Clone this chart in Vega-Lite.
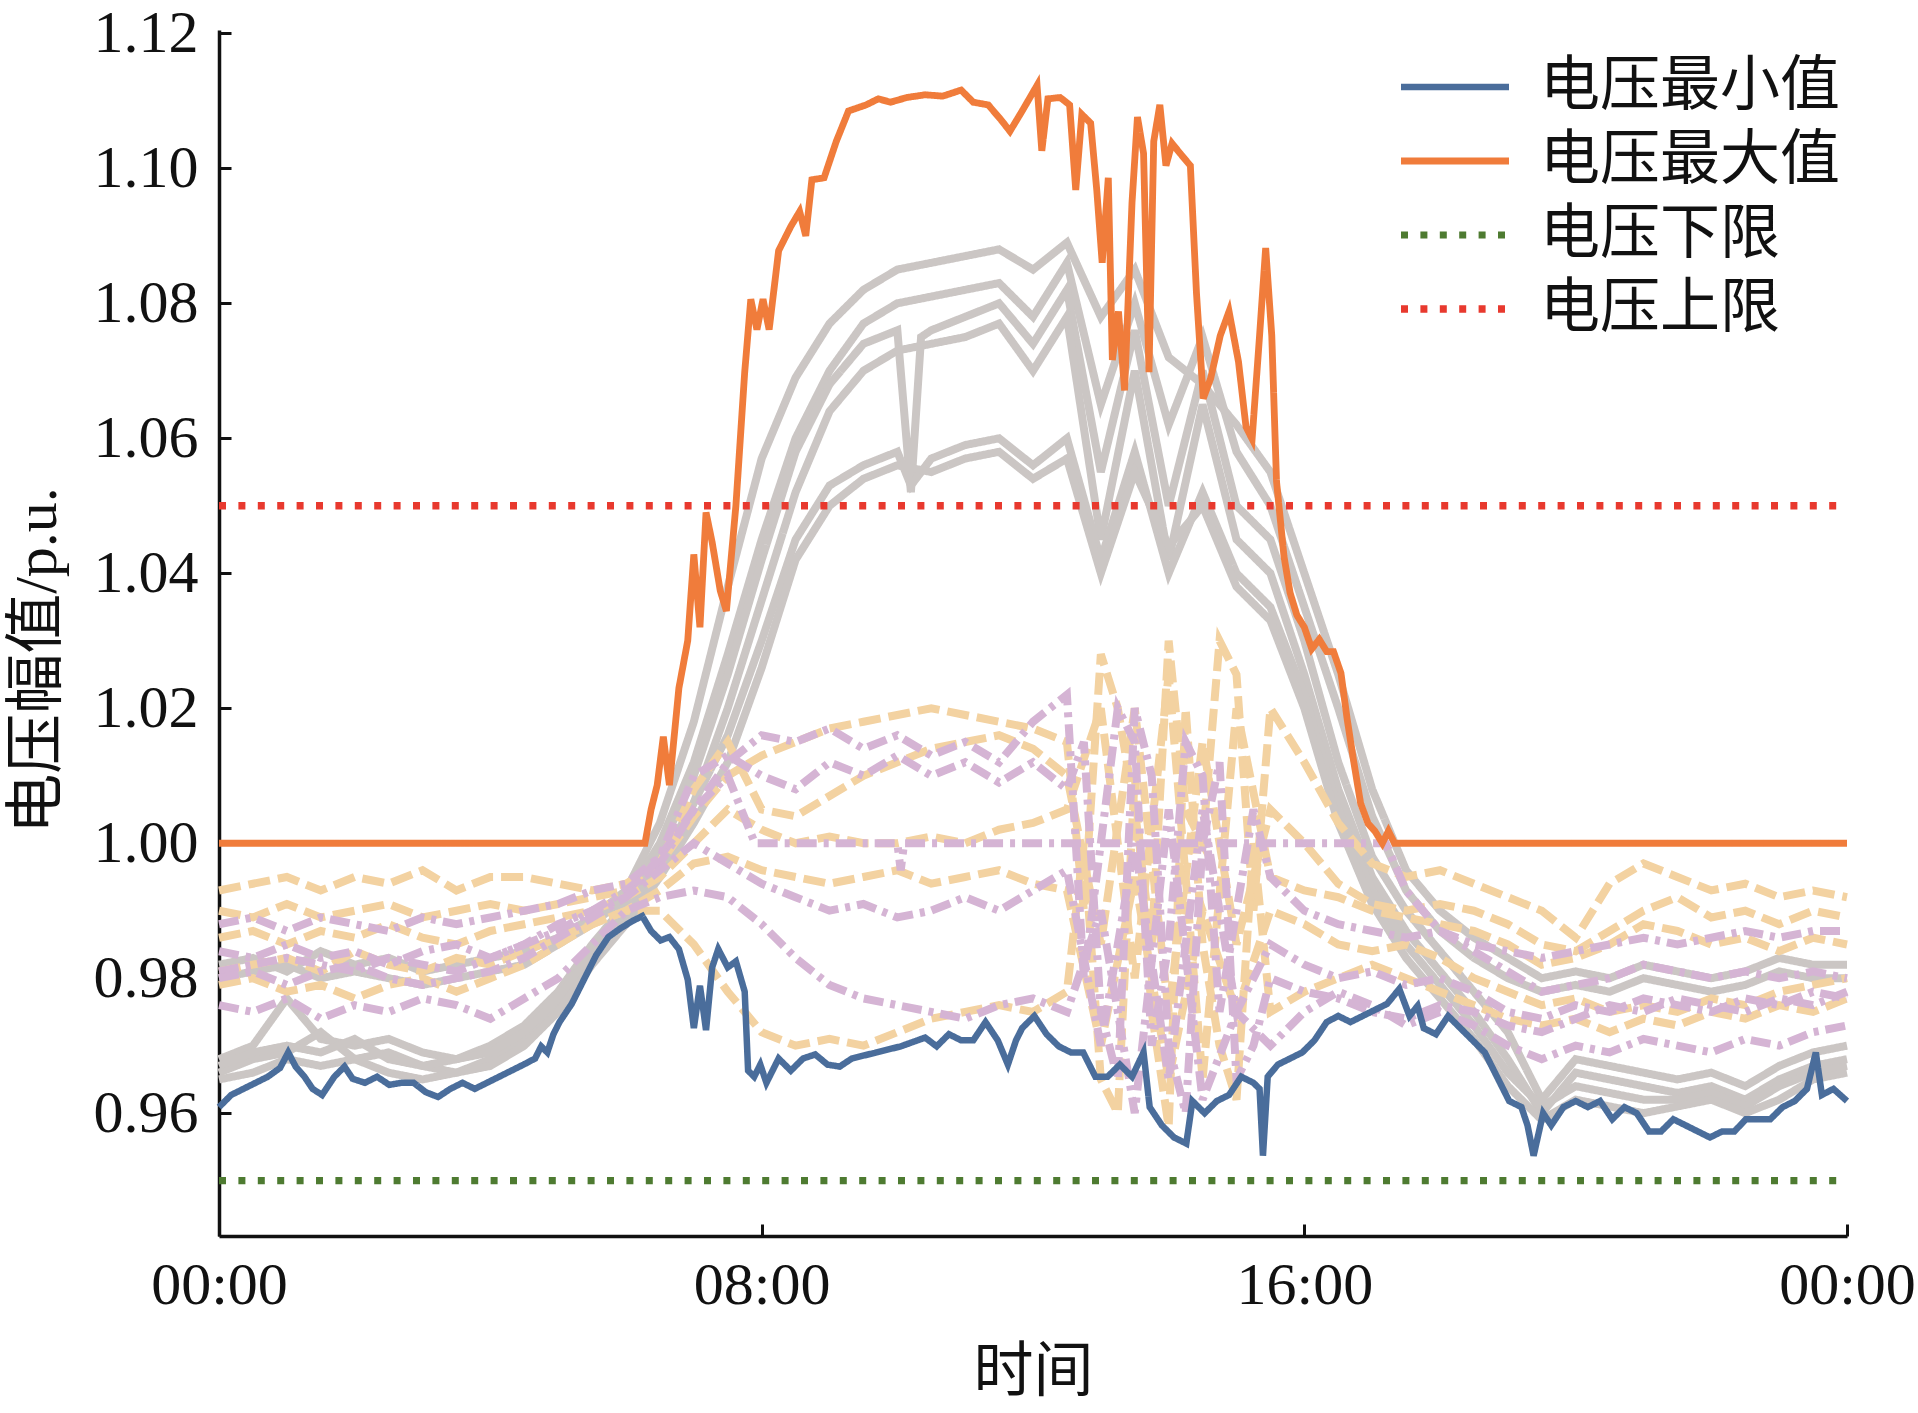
{
  "$schema": "https://vega.github.io/schema/vega-lite/v6.json",
  "width": 1628,
  "height": 1206,
  "autosize": {"type": "none"},
  "padding": {"left": 219, "top": 30, "right": 71, "bottom": 177},
  "background": "white",
  "config": {"view": {"stroke": null}, "font": "Liberation Serif"},
  "datasets": {
    "bg": [
      {"s":"g1","t":0,"v":0.982},{"s":"g1","t":0.5,"v":0.983},{"s":"g1","t":1,"v":0.981},{"s":"g1","t":1.5,"v":0.984},{"s":"g1","t":2,"v":0.982},{"s":"g1","t":2.5,"v":0.983},{"s":"g1","t":3,"v":0.981},{"s":"g1","t":3.5,"v":0.982},{"s":"g1","t":4,"v":0.983},{"s":"g1","t":4.5,"v":0.984},{"s":"g1","t":5,"v":0.986},{"s":"g1","t":5.5,"v":0.989},{"s":"g1","t":6,"v":0.993},{"s":"g1","t":6.5,"v":1.003},{"s":"g1","t":7,"v":1.018},{"s":"g1","t":7.5,"v":1.038},{"s":"g1","t":8,"v":1.057},{"s":"g1","t":8.5,"v":1.069},{"s":"g1","t":9,"v":1.077},{"s":"g1","t":9.5,"v":1.082},{"s":"g1","t":10,"v":1.085},{"s":"g1","t":10.5,"v":1.086},{"s":"g1","t":11,"v":1.087},{"s":"g1","t":11.5,"v":1.088},{"s":"g1","t":12,"v":1.085},{"s":"g1","t":12.5,"v":1.089},{"s":"g1","t":13,"v":1.078},{"s":"g1","t":13.5,"v":1.085},{"s":"g1","t":14,"v":1.072},{"s":"g1","t":14.5,"v":1.068},{"s":"g1","t":15,"v":1.062},{"s":"g1","t":15.5,"v":1.055},{"s":"g1","t":16,"v":1.04},{"s":"g1","t":16.5,"v":1.025},{"s":"g1","t":17,"v":1.008},{"s":"g1","t":17.5,"v":0.996},{"s":"g1","t":18,"v":0.99},{"s":"g1","t":18.5,"v":0.986},{"s":"g1","t":19,"v":0.983},{"s":"g1","t":19.5,"v":0.98},{"s":"g1","t":20,"v":0.981},{"s":"g1","t":20.5,"v":0.98},{"s":"g1","t":21,"v":0.982},{"s":"g1","t":21.5,"v":0.981},{"s":"g1","t":22,"v":0.98},{"s":"g1","t":22.5,"v":0.981},{"s":"g1","t":23,"v":0.983},{"s":"g1","t":23.5,"v":0.982},{"s":"g1","t":24,"v":0.982},
      {"s":"g2","t":0,"v":0.98},{"s":"g2","t":0.5,"v":0.981},{"s":"g2","t":1,"v":0.982},{"s":"g2","t":1.5,"v":0.98},{"s":"g2","t":2,"v":0.981},{"s":"g2","t":2.5,"v":0.98},{"s":"g2","t":3,"v":0.979},{"s":"g2","t":3.5,"v":0.98},{"s":"g2","t":4,"v":0.981},{"s":"g2","t":4.5,"v":0.982},{"s":"g2","t":5,"v":0.985},{"s":"g2","t":5.5,"v":0.988},{"s":"g2","t":6,"v":0.992},{"s":"g2","t":6.5,"v":1.0},{"s":"g2","t":7,"v":1.012},{"s":"g2","t":7.5,"v":1.028},{"s":"g2","t":8,"v":1.045},{"s":"g2","t":8.5,"v":1.06},{"s":"g2","t":9,"v":1.07},{"s":"g2","t":9.5,"v":1.077},{"s":"g2","t":10,"v":1.08},{"s":"g2","t":10.5,"v":1.081},{"s":"g2","t":11,"v":1.082},{"s":"g2","t":11.5,"v":1.083},{"s":"g2","t":12,"v":1.078},{"s":"g2","t":12.5,"v":1.086},{"s":"g2","t":13,"v":1.065},{"s":"g2","t":13.5,"v":1.08},{"s":"g2","t":14,"v":1.062},{"s":"g2","t":14.5,"v":1.075},{"s":"g2","t":15,"v":1.058},{"s":"g2","t":15.5,"v":1.05},{"s":"g2","t":16,"v":1.035},{"s":"g2","t":16.5,"v":1.02},{"s":"g2","t":17,"v":1.004},{"s":"g2","t":17.5,"v":0.993},{"s":"g2","t":18,"v":0.987},{"s":"g2","t":18.5,"v":0.983},{"s":"g2","t":19,"v":0.98},{"s":"g2","t":19.5,"v":0.978},{"s":"g2","t":20,"v":0.979},{"s":"g2","t":20.5,"v":0.978},{"s":"g2","t":21,"v":0.98},{"s":"g2","t":21.5,"v":0.979},{"s":"g2","t":22,"v":0.978},{"s":"g2","t":22.5,"v":0.979},{"s":"g2","t":23,"v":0.981},{"s":"g2","t":23.5,"v":0.98},{"s":"g2","t":24,"v":0.98},
      {"s":"g3","t":0,"v":0.968},{"s":"g3","t":0.5,"v":0.97},{"s":"g3","t":1,"v":0.977},{"s":"g3","t":1.5,"v":0.971},{"s":"g3","t":2,"v":0.97},{"s":"g3","t":2.5,"v":0.971},{"s":"g3","t":3,"v":0.969},{"s":"g3","t":3.5,"v":0.968},{"s":"g3","t":4,"v":0.97},{"s":"g3","t":4.5,"v":0.973},{"s":"g3","t":5,"v":0.978},{"s":"g3","t":5.5,"v":0.985},{"s":"g3","t":6,"v":0.991},{"s":"g3","t":6.5,"v":0.999},{"s":"g3","t":7,"v":1.01},{"s":"g3","t":7.5,"v":1.025},{"s":"g3","t":8,"v":1.042},{"s":"g3","t":8.5,"v":1.058},{"s":"g3","t":9,"v":1.068},{"s":"g3","t":9.5,"v":1.074},{"s":"g3","t":10,"v":1.076},{"s":"g3","t":10.2,"v":1.052},{"s":"g3","t":10.35,"v":1.075},{"s":"g3","t":10.5,"v":1.076},{"s":"g3","t":11,"v":1.078},{"s":"g3","t":11.5,"v":1.08},{"s":"g3","t":12,"v":1.074},{"s":"g3","t":12.5,"v":1.082},{"s":"g3","t":13,"v":1.055},{"s":"g3","t":13.5,"v":1.076},{"s":"g3","t":14,"v":1.05},{"s":"g3","t":14.5,"v":1.07},{"s":"g3","t":15,"v":1.05},{"s":"g3","t":15.5,"v":1.045},{"s":"g3","t":16,"v":1.03},{"s":"g3","t":16.5,"v":1.012},{"s":"g3","t":17,"v":0.998},{"s":"g3","t":17.5,"v":0.99},{"s":"g3","t":18,"v":0.984},{"s":"g3","t":18.5,"v":0.978},{"s":"g3","t":19,"v":0.972},{"s":"g3","t":19.5,"v":0.962},{"s":"g3","t":20,"v":0.968},{"s":"g3","t":20.5,"v":0.967},{"s":"g3","t":21,"v":0.966},{"s":"g3","t":21.5,"v":0.965},{"s":"g3","t":22,"v":0.966},{"s":"g3","t":22.5,"v":0.964},{"s":"g3","t":23,"v":0.967},{"s":"g3","t":23.5,"v":0.969},{"s":"g3","t":24,"v":0.97},
      {"s":"g4","t":0,"v":0.966},{"s":"g4","t":0.5,"v":0.968},{"s":"g4","t":1,"v":0.969},{"s":"g4","t":1.5,"v":0.972},{"s":"g4","t":2,"v":0.968},{"s":"g4","t":2.5,"v":0.969},{"s":"g4","t":3,"v":0.967},{"s":"g4","t":3.5,"v":0.966},{"s":"g4","t":4,"v":0.968},{"s":"g4","t":4.5,"v":0.971},{"s":"g4","t":5,"v":0.976},{"s":"g4","t":5.5,"v":0.983},{"s":"g4","t":6,"v":0.989},{"s":"g4","t":6.5,"v":0.996},{"s":"g4","t":7,"v":1.006},{"s":"g4","t":7.5,"v":1.02},{"s":"g4","t":8,"v":1.036},{"s":"g4","t":8.5,"v":1.052},{"s":"g4","t":9,"v":1.064},{"s":"g4","t":9.5,"v":1.07},{"s":"g4","t":10,"v":1.073},{"s":"g4","t":10.5,"v":1.074},{"s":"g4","t":11,"v":1.075},{"s":"g4","t":11.5,"v":1.077},{"s":"g4","t":12,"v":1.07},{"s":"g4","t":12.5,"v":1.078},{"s":"g4","t":13,"v":1.045},{"s":"g4","t":13.5,"v":1.07},{"s":"g4","t":14,"v":1.042},{"s":"g4","t":14.5,"v":1.065},{"s":"g4","t":15,"v":1.045},{"s":"g4","t":15.5,"v":1.04},{"s":"g4","t":16,"v":1.025},{"s":"g4","t":16.5,"v":1.008},{"s":"g4","t":17,"v":0.995},{"s":"g4","t":17.5,"v":0.987},{"s":"g4","t":18,"v":0.981},{"s":"g4","t":18.5,"v":0.975},{"s":"g4","t":19,"v":0.968},{"s":"g4","t":19.5,"v":0.96},{"s":"g4","t":20,"v":0.966},{"s":"g4","t":20.5,"v":0.965},{"s":"g4","t":21,"v":0.964},{"s":"g4","t":21.5,"v":0.963},{"s":"g4","t":22,"v":0.964},{"s":"g4","t":22.5,"v":0.962},{"s":"g4","t":23,"v":0.965},{"s":"g4","t":23.5,"v":0.967},{"s":"g4","t":24,"v":0.968},
      {"s":"g5","t":0,"v":0.967},{"s":"g5","t":0.5,"v":0.969},{"s":"g5","t":1,"v":0.97},{"s":"g5","t":1.5,"v":0.969},{"s":"g5","t":2,"v":0.971},{"s":"g5","t":2.5,"v":0.968},{"s":"g5","t":3,"v":0.967},{"s":"g5","t":3.5,"v":0.968},{"s":"g5","t":4,"v":0.969},{"s":"g5","t":4.5,"v":0.972},{"s":"g5","t":5,"v":0.977},{"s":"g5","t":5.5,"v":0.984},{"s":"g5","t":6,"v":0.99},{"s":"g5","t":6.5,"v":0.997},{"s":"g5","t":7,"v":1.006},{"s":"g5","t":7.5,"v":1.016},{"s":"g5","t":8,"v":1.03},{"s":"g5","t":8.5,"v":1.045},{"s":"g5","t":9,"v":1.053},{"s":"g5","t":9.5,"v":1.056},{"s":"g5","t":10,"v":1.058},{"s":"g5","t":10.2,"v":1.053},{"s":"g5","t":10.5,"v":1.057},{"s":"g5","t":11,"v":1.059},{"s":"g5","t":11.5,"v":1.06},{"s":"g5","t":12,"v":1.056},{"s":"g5","t":12.5,"v":1.06},{"s":"g5","t":13,"v":1.042},{"s":"g5","t":13.5,"v":1.058},{"s":"g5","t":14,"v":1.04},{"s":"g5","t":14.5,"v":1.052},{"s":"g5","t":15,"v":1.04},{"s":"g5","t":15.5,"v":1.035},{"s":"g5","t":16,"v":1.022},{"s":"g5","t":16.5,"v":1.005},{"s":"g5","t":17,"v":0.993},{"s":"g5","t":17.5,"v":0.985},{"s":"g5","t":18,"v":0.979},{"s":"g5","t":18.5,"v":0.973},{"s":"g5","t":19,"v":0.966},{"s":"g5","t":19.5,"v":0.961},{"s":"g5","t":20,"v":0.964},{"s":"g5","t":20.5,"v":0.963},{"s":"g5","t":21,"v":0.962},{"s":"g5","t":21.5,"v":0.962},{"s":"g5","t":22,"v":0.963},{"s":"g5","t":22.5,"v":0.961},{"s":"g5","t":23,"v":0.964},{"s":"g5","t":23.5,"v":0.966},{"s":"g5","t":24,"v":0.967},
      {"s":"g6","t":0,"v":0.965},{"s":"g6","t":0.5,"v":0.966},{"s":"g6","t":1,"v":0.968},{"s":"g6","t":1.5,"v":0.967},{"s":"g6","t":2,"v":0.968},{"s":"g6","t":2.5,"v":0.966},{"s":"g6","t":3,"v":0.965},{"s":"g6","t":3.5,"v":0.966},{"s":"g6","t":4,"v":0.967},{"s":"g6","t":4.5,"v":0.97},{"s":"g6","t":5,"v":0.975},{"s":"g6","t":5.5,"v":0.982},{"s":"g6","t":6,"v":0.988},{"s":"g6","t":6.5,"v":0.995},{"s":"g6","t":7,"v":1.003},{"s":"g6","t":7.5,"v":1.012},{"s":"g6","t":8,"v":1.026},{"s":"g6","t":8.5,"v":1.042},{"s":"g6","t":9,"v":1.05},{"s":"g6","t":9.5,"v":1.054},{"s":"g6","t":10,"v":1.056},{"s":"g6","t":10.5,"v":1.055},{"s":"g6","t":11,"v":1.057},{"s":"g6","t":11.5,"v":1.058},{"s":"g6","t":12,"v":1.054},{"s":"g6","t":12.5,"v":1.057},{"s":"g6","t":13,"v":1.04},{"s":"g6","t":13.5,"v":1.055},{"s":"g6","t":14,"v":1.044},{"s":"g6","t":14.5,"v":1.05},{"s":"g6","t":15,"v":1.038},{"s":"g6","t":15.5,"v":1.033},{"s":"g6","t":16,"v":1.02},{"s":"g6","t":16.5,"v":1.003},{"s":"g6","t":17,"v":0.991},{"s":"g6","t":17.5,"v":0.983},{"s":"g6","t":18,"v":0.977},{"s":"g6","t":18.5,"v":0.971},{"s":"g6","t":19,"v":0.964},{"s":"g6","t":19.5,"v":0.959},{"s":"g6","t":20,"v":0.962},{"s":"g6","t":20.5,"v":0.961},{"s":"g6","t":21,"v":0.96},{"s":"g6","t":21.5,"v":0.961},{"s":"g6","t":22,"v":0.962},{"s":"g6","t":22.5,"v":0.96},{"s":"g6","t":23,"v":0.962},{"s":"g6","t":23.5,"v":0.965},{"s":"g6","t":24,"v":0.966},
      {"s":"y1","t":0,"v":0.993},{"s":"y1","t":0.5,"v":0.994},{"s":"y1","t":1,"v":0.995},{"s":"y1","t":1.5,"v":0.993},{"s":"y1","t":2,"v":0.995},{"s":"y1","t":2.5,"v":0.994},{"s":"y1","t":3,"v":0.996},{"s":"y1","t":3.5,"v":0.993},{"s":"y1","t":4,"v":0.995},{"s":"y1","t":4.5,"v":0.995},{"s":"y1","t":5,"v":0.994},{"s":"y1","t":5.5,"v":0.993},{"s":"y1","t":6,"v":0.994},{"s":"y1","t":6.5,"v":0.997},{"s":"y1","t":7,"v":1.004},{"s":"y1","t":7.5,"v":1.01},{"s":"y1","t":8,"v":1.013},{"s":"y1","t":8.5,"v":1.015},{"s":"y1","t":9,"v":1.017},{"s":"y1","t":9.5,"v":1.018},{"s":"y1","t":10,"v":1.019},{"s":"y1","t":10.5,"v":1.02},{"s":"y1","t":11,"v":1.019},{"s":"y1","t":11.5,"v":1.018},{"s":"y1","t":12,"v":1.017},{"s":"y1","t":12.5,"v":1.015},{"s":"y1","t":12.75,"v":0.99},{"s":"y1","t":13,"v":1.028},{"s":"y1","t":13.25,"v":1.02},{"s":"y1","t":13.5,"v":1.005},{"s":"y1","t":13.75,"v":0.985},{"s":"y1","t":14,"v":1.03},{"s":"y1","t":14.25,"v":1.005},{"s":"y1","t":14.5,"v":1.0},{"s":"y1","t":14.75,"v":1.03},{"s":"y1","t":15,"v":1.025},{"s":"y1","t":15.25,"v":0.99},{"s":"y1","t":15.5,"v":1.02},{"s":"y1","t":16,"v":1.012},{"s":"y1","t":16.5,"v":1.003},{"s":"y1","t":17,"v":0.997},{"s":"y1","t":17.5,"v":0.995},{"s":"y1","t":18,"v":0.996},{"s":"y1","t":18.5,"v":0.994},{"s":"y1","t":19,"v":0.992},{"s":"y1","t":19.5,"v":0.99},{"s":"y1","t":20,"v":0.986},{"s":"y1","t":20.5,"v":0.994},{"s":"y1","t":21,"v":0.997},{"s":"y1","t":21.5,"v":0.995},{"s":"y1","t":22,"v":0.993},{"s":"y1","t":22.5,"v":0.994},{"s":"y1","t":23,"v":0.992},{"s":"y1","t":23.5,"v":0.993},{"s":"y1","t":24,"v":0.992},
      {"s":"y2","t":0,"v":0.99},{"s":"y2","t":0.5,"v":0.989},{"s":"y2","t":1,"v":0.991},{"s":"y2","t":1.5,"v":0.989},{"s":"y2","t":2,"v":0.99},{"s":"y2","t":2.5,"v":0.991},{"s":"y2","t":3,"v":0.989},{"s":"y2","t":3.5,"v":0.99},{"s":"y2","t":4,"v":0.991},{"s":"y2","t":4.5,"v":0.99},{"s":"y2","t":5,"v":0.991},{"s":"y2","t":5.5,"v":0.992},{"s":"y2","t":6,"v":0.993},{"s":"y2","t":6.5,"v":0.997},{"s":"y2","t":7,"v":1.008},{"s":"y2","t":7.5,"v":1.015},{"s":"y2","t":8,"v":1.005},{"s":"y2","t":8.5,"v":1.004},{"s":"y2","t":9,"v":1.007},{"s":"y2","t":9.5,"v":1.01},{"s":"y2","t":10,"v":1.012},{"s":"y2","t":10.5,"v":1.014},{"s":"y2","t":11,"v":1.015},{"s":"y2","t":11.5,"v":1.016},{"s":"y2","t":12,"v":1.014},{"s":"y2","t":12.5,"v":1.01},{"s":"y2","t":13,"v":0.985},{"s":"y2","t":13.5,"v":1.02},{"s":"y2","t":14,"v":0.975},{"s":"y2","t":14.5,"v":1.015},{"s":"y2","t":15,"v":0.985},{"s":"y2","t":15.5,"v":1.005},{"s":"y2","t":16,"v":1.0},{"s":"y2","t":16.5,"v":0.994},{"s":"y2","t":17,"v":0.991},{"s":"y2","t":17.5,"v":0.99},{"s":"y2","t":18,"v":0.991},{"s":"y2","t":18.5,"v":0.99},{"s":"y2","t":19,"v":0.988},{"s":"y2","t":19.5,"v":0.985},{"s":"y2","t":20,"v":0.984},{"s":"y2","t":20.5,"v":0.987},{"s":"y2","t":21,"v":0.99},{"s":"y2","t":21.5,"v":0.992},{"s":"y2","t":22,"v":0.989},{"s":"y2","t":22.5,"v":0.99},{"s":"y2","t":23,"v":0.988},{"s":"y2","t":23.5,"v":0.99},{"s":"y2","t":24,"v":0.989},
      {"s":"y3","t":0,"v":0.981},{"s":"y3","t":0.5,"v":0.982},{"s":"y3","t":1,"v":0.983},{"s":"y3","t":1.5,"v":0.981},{"s":"y3","t":2,"v":0.984},{"s":"y3","t":2.5,"v":0.982},{"s":"y3","t":3,"v":0.981},{"s":"y3","t":3.5,"v":0.983},{"s":"y3","t":4,"v":0.982},{"s":"y3","t":4.5,"v":0.984},{"s":"y3","t":5,"v":0.986},{"s":"y3","t":5.5,"v":0.988},{"s":"y3","t":6,"v":0.99},{"s":"y3","t":6.5,"v":0.993},{"s":"y3","t":7,"v":0.997},{"s":"y3","t":7.5,"v":0.998},{"s":"y3","t":8,"v":0.996},{"s":"y3","t":8.5,"v":0.995},{"s":"y3","t":9,"v":0.994},{"s":"y3","t":9.5,"v":0.995},{"s":"y3","t":10,"v":0.996},{"s":"y3","t":10.5,"v":0.994},{"s":"y3","t":11,"v":0.995},{"s":"y3","t":11.5,"v":0.996},{"s":"y3","t":12,"v":0.994},{"s":"y3","t":12.5,"v":0.993},{"s":"y3","t":13,"v":0.97},{"s":"y3","t":13.5,"v":0.995},{"s":"y3","t":14,"v":0.965},{"s":"y3","t":14.5,"v":0.99},{"s":"y3","t":15,"v":0.975},{"s":"y3","t":15.5,"v":0.99},{"s":"y3","t":16,"v":0.988},{"s":"y3","t":16.5,"v":0.985},{"s":"y3","t":17,"v":0.984},{"s":"y3","t":17.5,"v":0.985},{"s":"y3","t":18,"v":0.983},{"s":"y3","t":18.5,"v":0.98},{"s":"y3","t":19,"v":0.978},{"s":"y3","t":19.5,"v":0.976},{"s":"y3","t":20,"v":0.977},{"s":"y3","t":20.5,"v":0.975},{"s":"y3","t":21,"v":0.976},{"s":"y3","t":21.5,"v":0.975},{"s":"y3","t":22,"v":0.977},{"s":"y3","t":22.5,"v":0.976},{"s":"y3","t":23,"v":0.978},{"s":"y3","t":23.5,"v":0.979},{"s":"y3","t":24,"v":0.98},
      {"s":"y4","t":0,"v":0.979},{"s":"y4","t":0.5,"v":0.98},{"s":"y4","t":1,"v":0.978},{"s":"y4","t":1.5,"v":0.979},{"s":"y4","t":2,"v":0.977},{"s":"y4","t":2.5,"v":0.979},{"s":"y4","t":3,"v":0.98},{"s":"y4","t":3.5,"v":0.978},{"s":"y4","t":4,"v":0.98},{"s":"y4","t":4.5,"v":0.982},{"s":"y4","t":5,"v":0.985},{"s":"y4","t":5.5,"v":0.988},{"s":"y4","t":6,"v":0.99},{"s":"y4","t":6.5,"v":0.99},{"s":"y4","t":7,"v":0.985},{"s":"y4","t":7.5,"v":0.978},{"s":"y4","t":8,"v":0.972},{"s":"y4","t":8.5,"v":0.97},{"s":"y4","t":9,"v":0.971},{"s":"y4","t":9.5,"v":0.97},{"s":"y4","t":10,"v":0.972},{"s":"y4","t":10.5,"v":0.974},{"s":"y4","t":11,"v":0.975},{"s":"y4","t":11.5,"v":0.976},{"s":"y4","t":12,"v":0.975},{"s":"y4","t":12.5,"v":0.978},{"s":"y4","t":12.75,"v":1.0},{"s":"y4","t":13,"v":0.965},{"s":"y4","t":13.25,"v":0.96},{"s":"y4","t":13.5,"v":1.01},{"s":"y4","t":13.75,"v":0.975},{"s":"y4","t":14,"v":0.958},{"s":"y4","t":14.25,"v":1.02},{"s":"y4","t":14.5,"v":0.985},{"s":"y4","t":14.75,"v":0.97},{"s":"y4","t":15,"v":0.962},{"s":"y4","t":15.25,"v":1.0},{"s":"y4","t":15.5,"v":0.975},{"s":"y4","t":16,"v":0.978},{"s":"y4","t":16.5,"v":0.98},{"s":"y4","t":17,"v":0.982},{"s":"y4","t":17.5,"v":0.98},{"s":"y4","t":18,"v":0.978},{"s":"y4","t":18.5,"v":0.976},{"s":"y4","t":19,"v":0.974},{"s":"y4","t":19.5,"v":0.973},{"s":"y4","t":20,"v":0.974},{"s":"y4","t":20.5,"v":0.972},{"s":"y4","t":21,"v":0.974},{"s":"y4","t":21.5,"v":0.973},{"s":"y4","t":22,"v":0.975},{"s":"y4","t":22.5,"v":0.974},{"s":"y4","t":23,"v":0.976},{"s":"y4","t":23.5,"v":0.975},{"s":"y4","t":24,"v":0.977},
      {"s":"y5","t":0,"v":0.986},{"s":"y5","t":0.5,"v":0.987},{"s":"y5","t":1,"v":0.985},{"s":"y5","t":1.5,"v":0.987},{"s":"y5","t":2,"v":0.986},{"s":"y5","t":2.5,"v":0.988},{"s":"y5","t":3,"v":0.986},{"s":"y5","t":3.5,"v":0.985},{"s":"y5","t":4,"v":0.987},{"s":"y5","t":4.5,"v":0.988},{"s":"y5","t":5,"v":0.989},{"s":"y5","t":5.5,"v":0.99},{"s":"y5","t":6,"v":0.992},{"s":"y5","t":6.5,"v":0.995},{"s":"y5","t":7,"v":1.0},{"s":"y5","t":7.5,"v":1.005},{"s":"y5","t":8,"v":1.002},{"s":"y5","t":8.5,"v":1.0},{"s":"y5","t":9,"v":1.001},{"s":"y5","t":9.5,"v":1.0},{"s":"y5","t":10,"v":1.0},{"s":"y5","t":10.5,"v":1.001},{"s":"y5","t":11,"v":1.0},{"s":"y5","t":11.5,"v":1.002},{"s":"y5","t":12,"v":1.003},{"s":"y5","t":12.5,"v":1.005},{"s":"y5","t":13,"v":1.02},{"s":"y5","t":13.5,"v":0.98},{"s":"y5","t":14,"v":1.025},{"s":"y5","t":14.5,"v":0.965},{"s":"y5","t":15,"v":1.02},{"s":"y5","t":15.5,"v":0.995},{"s":"y5","t":16,"v":0.993},{"s":"y5","t":16.5,"v":0.992},{"s":"y5","t":17,"v":0.99},{"s":"y5","t":17.5,"v":0.989},{"s":"y5","t":18,"v":0.988},{"s":"y5","t":18.5,"v":0.987},{"s":"y5","t":19,"v":0.985},{"s":"y5","t":19.5,"v":0.982},{"s":"y5","t":20,"v":0.983},{"s":"y5","t":20.5,"v":0.985},{"s":"y5","t":21,"v":0.988},{"s":"y5","t":21.5,"v":0.987},{"s":"y5","t":22,"v":0.985},{"s":"y5","t":22.5,"v":0.986},{"s":"y5","t":23,"v":0.984},{"s":"y5","t":23.5,"v":0.986},{"s":"y5","t":24,"v":0.985},
      {"s":"p1","t":0,"v":0.988},{"s":"p1","t":0.5,"v":0.989},{"s":"p1","t":1,"v":0.987},{"s":"p1","t":1.5,"v":0.989},{"s":"p1","t":2,"v":0.988},{"s":"p1","t":2.5,"v":0.987},{"s":"p1","t":3,"v":0.989},{"s":"p1","t":3.5,"v":0.988},{"s":"p1","t":4,"v":0.989},{"s":"p1","t":4.5,"v":0.99},{"s":"p1","t":5,"v":0.991},{"s":"p1","t":5.5,"v":0.993},{"s":"p1","t":6,"v":0.994},{"s":"p1","t":6.5,"v":0.998},{"s":"p1","t":7,"v":1.005},{"s":"p1","t":7.5,"v":1.012},{"s":"p1","t":8,"v":1.016},{"s":"p1","t":8.5,"v":1.015},{"s":"p1","t":9,"v":1.017},{"s":"p1","t":9.5,"v":1.014},{"s":"p1","t":10,"v":1.016},{"s":"p1","t":10.5,"v":1.013},{"s":"p1","t":11,"v":1.015},{"s":"p1","t":11.5,"v":1.012},{"s":"p1","t":12,"v":1.018},{"s":"p1","t":12.5,"v":1.022},{"s":"p1","t":12.75,"v":0.98},{"s":"p1","t":13,"v":1.0},{"s":"p1","t":13.25,"v":1.02},{"s":"p1","t":13.5,"v":1.015},{"s":"p1","t":13.75,"v":0.97},{"s":"p1","t":14,"v":0.985},{"s":"p1","t":14.25,"v":1.015},{"s":"p1","t":14.5,"v":1.01},{"s":"p1","t":14.75,"v":0.975},{"s":"p1","t":15,"v":0.99},{"s":"p1","t":15.25,"v":1.005},{"s":"p1","t":15.5,"v":0.995},{"s":"p1","t":16,"v":0.99},{"s":"p1","t":16.5,"v":0.988},{"s":"p1","t":17,"v":0.987},{"s":"p1","t":17.5,"v":0.986},{"s":"p1","t":18,"v":0.987},{"s":"p1","t":18.5,"v":0.985},{"s":"p1","t":19,"v":0.984},{"s":"p1","t":19.5,"v":0.983},{"s":"p1","t":20,"v":0.984},{"s":"p1","t":20.5,"v":0.985},{"s":"p1","t":21,"v":0.986},{"s":"p1","t":21.5,"v":0.985},{"s":"p1","t":22,"v":0.986},{"s":"p1","t":22.5,"v":0.987},{"s":"p1","t":23,"v":0.986},{"s":"p1","t":23.5,"v":0.987},{"s":"p1","t":24,"v":0.987},
      {"s":"p2","t":0,"v":0.981},{"s":"p2","t":0.5,"v":0.982},{"s":"p2","t":1,"v":0.983},{"s":"p2","t":1.5,"v":0.982},{"s":"p2","t":2,"v":0.981},{"s":"p2","t":2.5,"v":0.983},{"s":"p2","t":3,"v":0.982},{"s":"p2","t":3.5,"v":0.981},{"s":"p2","t":4,"v":0.983},{"s":"p2","t":4.5,"v":0.985},{"s":"p2","t":5,"v":0.987},{"s":"p2","t":5.5,"v":0.99},{"s":"p2","t":6,"v":0.993},{"s":"p2","t":6.5,"v":0.997},{"s":"p2","t":7,"v":1.005},{"s":"p2","t":7.5,"v":1.01},{"s":"p2","t":7.9,"v":1.0},{"s":"p2","t":10,"v":1.0},{"s":"p2","t":10.05,"v":0.996},{"s":"p2","t":10.1,"v":1.0},{"s":"p2","t":17.2,"v":1.0},{"s":"p2","t":17.5,"v":0.993},{"s":"p2","t":18,"v":0.987},{"s":"p2","t":18.5,"v":0.984},{"s":"p2","t":19,"v":0.981},{"s":"p2","t":19.5,"v":0.978},{"s":"p2","t":20,"v":0.979},{"s":"p2","t":20.5,"v":0.98},{"s":"p2","t":21,"v":0.982},{"s":"p2","t":21.5,"v":0.981},{"s":"p2","t":22,"v":0.98},{"s":"p2","t":22.5,"v":0.981},{"s":"p2","t":23,"v":0.98},{"s":"p2","t":23.5,"v":0.981},{"s":"p2","t":24,"v":0.98},
      {"s":"p3","t":0,"v":0.976},{"s":"p3","t":0.5,"v":0.975},{"s":"p3","t":1,"v":0.977},{"s":"p3","t":1.5,"v":0.974},{"s":"p3","t":2,"v":0.976},{"s":"p3","t":2.5,"v":0.975},{"s":"p3","t":3,"v":0.977},{"s":"p3","t":3.5,"v":0.976},{"s":"p3","t":4,"v":0.974},{"s":"p3","t":4.5,"v":0.977},{"s":"p3","t":5,"v":0.98},{"s":"p3","t":5.5,"v":0.985},{"s":"p3","t":6,"v":0.99},{"s":"p3","t":6.5,"v":0.992},{"s":"p3","t":7,"v":0.993},{"s":"p3","t":7.5,"v":0.992},{"s":"p3","t":8,"v":0.988},{"s":"p3","t":8.5,"v":0.983},{"s":"p3","t":9,"v":0.979},{"s":"p3","t":9.5,"v":0.977},{"s":"p3","t":10,"v":0.976},{"s":"p3","t":10.5,"v":0.975},{"s":"p3","t":11,"v":0.974},{"s":"p3","t":11.5,"v":0.976},{"s":"p3","t":12,"v":0.977},{"s":"p3","t":12.5,"v":0.975},{"s":"p3","t":13,"v":0.99},{"s":"p3","t":13.5,"v":0.96},{"s":"p3","t":14,"v":1.005},{"s":"p3","t":14.5,"v":0.962},{"s":"p3","t":15,"v":0.975},{"s":"p3","t":15.5,"v":0.97},{"s":"p3","t":16,"v":0.975},{"s":"p3","t":16.5,"v":0.978},{"s":"p3","t":17,"v":0.976},{"s":"p3","t":17.5,"v":0.973},{"s":"p3","t":18,"v":0.975},{"s":"p3","t":18.5,"v":0.973},{"s":"p3","t":19,"v":0.97},{"s":"p3","t":19.5,"v":0.968},{"s":"p3","t":20,"v":0.97},{"s":"p3","t":20.5,"v":0.969},{"s":"p3","t":21,"v":0.971},{"s":"p3","t":21.5,"v":0.97},{"s":"p3","t":22,"v":0.969},{"s":"p3","t":22.5,"v":0.971},{"s":"p3","t":23,"v":0.97},{"s":"p3","t":23.5,"v":0.972},{"s":"p3","t":24,"v":0.973},
      {"s":"p4","t":0,"v":0.984},{"s":"p4","t":0.5,"v":0.983},{"s":"p4","t":1,"v":0.985},{"s":"p4","t":1.5,"v":0.983},{"s":"p4","t":2,"v":0.984},{"s":"p4","t":2.5,"v":0.982},{"s":"p4","t":3,"v":0.984},{"s":"p4","t":3.5,"v":0.985},{"s":"p4","t":4,"v":0.983},{"s":"p4","t":4.5,"v":0.985},{"s":"p4","t":5,"v":0.988},{"s":"p4","t":5.5,"v":0.99},{"s":"p4","t":6,"v":0.992},{"s":"p4","t":6.5,"v":0.996},{"s":"p4","t":7,"v":1.0},{"s":"p4","t":7.5,"v":0.997},{"s":"p4","t":8,"v":0.994},{"s":"p4","t":8.5,"v":0.992},{"s":"p4","t":9,"v":0.99},{"s":"p4","t":9.5,"v":0.991},{"s":"p4","t":10,"v":0.989},{"s":"p4","t":10.5,"v":0.99},{"s":"p4","t":11,"v":0.992},{"s":"p4","t":11.5,"v":0.99},{"s":"p4","t":12,"v":0.993},{"s":"p4","t":12.5,"v":0.996},{"s":"p4","t":13,"v":0.97},{"s":"p4","t":13.5,"v":1.0},{"s":"p4","t":14,"v":0.965},{"s":"p4","t":14.5,"v":1.005},{"s":"p4","t":15,"v":0.975},{"s":"p4","t":15.5,"v":0.985},{"s":"p4","t":16,"v":0.982},{"s":"p4","t":16.5,"v":0.98},{"s":"p4","t":17,"v":0.981},{"s":"p4","t":17.5,"v":0.979},{"s":"p4","t":18,"v":0.98},{"s":"p4","t":18.5,"v":0.978},{"s":"p4","t":19,"v":0.975},{"s":"p4","t":19.5,"v":0.974},{"s":"p4","t":20,"v":0.976},{"s":"p4","t":20.5,"v":0.975},{"s":"p4","t":21,"v":0.977},{"s":"p4","t":21.5,"v":0.976},{"s":"p4","t":22,"v":0.975},{"s":"p4","t":22.5,"v":0.977},{"s":"p4","t":23,"v":0.976},{"s":"p4","t":23.5,"v":0.978},{"s":"p4","t":24,"v":0.977},
      {"s":"p5","t":0,"v":0.98},{"s":"p5","t":0.5,"v":0.981},{"s":"p5","t":1,"v":0.979},{"s":"p5","t":1.5,"v":0.981},{"s":"p5","t":2,"v":0.982},{"s":"p5","t":2.5,"v":0.98},{"s":"p5","t":3,"v":0.979},{"s":"p5","t":3.5,"v":0.98},{"s":"p5","t":4,"v":0.981},{"s":"p5","t":4.5,"v":0.983},{"s":"p5","t":5,"v":0.986},{"s":"p5","t":5.5,"v":0.989},{"s":"p5","t":6,"v":0.992},{"s":"p5","t":6.5,"v":0.998},{"s":"p5","t":7,"v":1.01},{"s":"p5","t":7.5,"v":1.013},{"s":"p5","t":8,"v":1.01},{"s":"p5","t":8.5,"v":1.008},{"s":"p5","t":9,"v":1.012},{"s":"p5","t":9.5,"v":1.01},{"s":"p5","t":10,"v":1.013},{"s":"p5","t":10.5,"v":1.01},{"s":"p5","t":11,"v":1.012},{"s":"p5","t":11.5,"v":1.009},{"s":"p5","t":12,"v":1.012},{"s":"p5","t":12.5,"v":1.008},{"s":"p5","t":12.75,"v":1.015},{"s":"p5","t":13,"v":0.975},{"s":"p5","t":13.25,"v":0.965},{"s":"p5","t":13.5,"v":1.02},{"s":"p5","t":13.75,"v":1.01},{"s":"p5","t":14,"v":0.97},{"s":"p5","t":14.25,"v":0.96},{"s":"p5","t":14.5,"v":1.0},{"s":"p5","t":14.75,"v":1.012},{"s":"p5","t":15,"v":0.965},{"s":"p5","t":15.25,"v":0.97},{"s":"p5","t":15.5,"v":0.98},{"s":"p5","t":16,"v":0.978},{"s":"p5","t":16.5,"v":0.977},{"s":"p5","t":17,"v":0.975},{"s":"p5","t":17.5,"v":0.974},{"s":"p5","t":18,"v":0.976},{"s":"p5","t":18.5,"v":0.975},{"s":"p5","t":19,"v":0.973},{"s":"p5","t":19.5,"v":0.972},{"s":"p5","t":20,"v":0.974},{"s":"p5","t":20.5,"v":0.976},{"s":"p5","t":21,"v":0.975},{"s":"p5","t":21.5,"v":0.977},{"s":"p5","t":22,"v":0.976},{"s":"p5","t":22.5,"v":0.975},{"s":"p5","t":23,"v":0.977},{"s":"p5","t":23.5,"v":0.976},{"s":"p5","t":24,"v":0.978}
    ],
    "main": [
      {"k":"min","t":0,"v":0.9609},{"k":"min","t":0.18,"v":0.9627},{"k":"min","t":0.36,"v":0.9636},{"k":"min","t":0.54,"v":0.9645},{"k":"min","t":0.72,"v":0.9654},{"k":"min","t":0.9,"v":0.9667},{"k":"min","t":1.02,"v":0.969},{"k":"min","t":1.13,"v":0.9669},{"k":"min","t":1.26,"v":0.9654},{"k":"min","t":1.38,"v":0.9636},{"k":"min","t":1.52,"v":0.9627},{"k":"min","t":1.7,"v":0.9654},{"k":"min","t":1.85,"v":0.9669},{"k":"min","t":1.97,"v":0.9651},{"k":"min","t":2.15,"v":0.9645},{"k":"min","t":2.33,"v":0.9654},{"k":"min","t":2.51,"v":0.9642},{"k":"min","t":2.69,"v":0.9645},{"k":"min","t":2.87,"v":0.9645},{"k":"min","t":3.05,"v":0.9631},{"k":"min","t":3.23,"v":0.9624},{"k":"min","t":3.41,"v":0.9636},{"k":"min","t":3.59,"v":0.9645},{"k":"min","t":3.77,"v":0.9636},{"k":"min","t":3.95,"v":0.9645},{"k":"min","t":4.13,"v":0.9654},{"k":"min","t":4.31,"v":0.9663},{"k":"min","t":4.49,"v":0.9672},{"k":"min","t":4.66,"v":0.9681},{"k":"min","t":4.75,"v":0.9699},{"k":"min","t":4.84,"v":0.969},{"k":"min","t":4.93,"v":0.9717},{"k":"min","t":5.02,"v":0.9735},{"k":"min","t":5.2,"v":0.9762},{"k":"min","t":5.38,"v":0.9798},{"k":"min","t":5.56,"v":0.9834},{"k":"min","t":5.74,"v":0.9861},{"k":"min","t":5.92,"v":0.9874},{"k":"min","t":6.1,"v":0.9885},{"k":"min","t":6.24,"v":0.9892},{"k":"min","t":6.37,"v":0.987},{"k":"min","t":6.51,"v":0.9856},{"k":"min","t":6.64,"v":0.9861},{"k":"min","t":6.78,"v":0.9843},{"k":"min","t":6.91,"v":0.9798},{"k":"min","t":7,"v":0.9726},{"k":"min","t":7.09,"v":0.9789},{"k":"min","t":7.18,"v":0.9723},{"k":"min","t":7.27,"v":0.9816},{"k":"min","t":7.36,"v":0.9843},{"k":"min","t":7.5,"v":0.9816},{"k":"min","t":7.62,"v":0.9825},{"k":"min","t":7.75,"v":0.978},{"k":"min","t":7.8,"v":0.9663},{"k":"min","t":7.89,"v":0.9654},{"k":"min","t":7.98,"v":0.9672},{"k":"min","t":8.07,"v":0.9645},{"k":"min","t":8.25,"v":0.9681},{"k":"min","t":8.43,"v":0.9663},{"k":"min","t":8.61,"v":0.9681},{"k":"min","t":8.79,"v":0.9687},{"k":"min","t":8.97,"v":0.9672},{"k":"min","t":9.15,"v":0.9669},{"k":"min","t":9.33,"v":0.9681},{"k":"min","t":9.69,"v":0.969},{"k":"min","t":10.05,"v":0.9699},{"k":"min","t":10.41,"v":0.9712},{"k":"min","t":10.58,"v":0.9699},{"k":"min","t":10.76,"v":0.9717},{"k":"min","t":10.94,"v":0.9708},{"k":"min","t":11.12,"v":0.9708},{"k":"min","t":11.3,"v":0.9735},{"k":"min","t":11.48,"v":0.9708},{"k":"min","t":11.63,"v":0.9672},{"k":"min","t":11.75,"v":0.9708},{"k":"min","t":11.84,"v":0.9726},{"k":"min","t":12.02,"v":0.9744},{"k":"min","t":12.2,"v":0.9717},{"k":"min","t":12.38,"v":0.9699},{"k":"min","t":12.56,"v":0.969},{"k":"min","t":12.74,"v":0.969},{"k":"min","t":12.92,"v":0.9654},{"k":"min","t":13.1,"v":0.9654},{"k":"min","t":13.28,"v":0.9672},{"k":"min","t":13.46,"v":0.9654},{"k":"min","t":13.63,"v":0.969},{"k":"min","t":13.72,"v":0.9609},{"k":"min","t":13.9,"v":0.9582},{"k":"min","t":14.08,"v":0.9564},{"k":"min","t":14.26,"v":0.9555},{"k":"min","t":14.35,"v":0.9618},{"k":"min","t":14.53,"v":0.96},{"k":"min","t":14.71,"v":0.9618},{"k":"min","t":14.89,"v":0.9627},{"k":"min","t":15.07,"v":0.9654},{"k":"min","t":15.25,"v":0.9645},{"k":"min","t":15.34,"v":0.9636},{"k":"min","t":15.39,"v":0.9537},{"k":"min","t":15.46,"v":0.9654},{"k":"min","t":15.61,"v":0.9672},{"k":"min","t":15.79,"v":0.9681},{"k":"min","t":15.97,"v":0.969},{"k":"min","t":16.15,"v":0.9708},{"k":"min","t":16.33,"v":0.9735},{"k":"min","t":16.5,"v":0.9744},{"k":"min","t":16.68,"v":0.9735},{"k":"min","t":16.86,"v":0.9744},{"k":"min","t":17.04,"v":0.9753},{"k":"min","t":17.22,"v":0.9762},{"k":"min","t":17.4,"v":0.9784},{"k":"min","t":17.55,"v":0.9744},{"k":"min","t":17.67,"v":0.9759},{"k":"min","t":17.76,"v":0.9726},{"k":"min","t":17.94,"v":0.9717},{"k":"min","t":18.12,"v":0.9744},{"k":"min","t":18.3,"v":0.9726},{"k":"min","t":18.48,"v":0.9708},{"k":"min","t":18.66,"v":0.969},{"k":"min","t":18.84,"v":0.9654},{"k":"min","t":19.02,"v":0.9618},{"k":"min","t":19.2,"v":0.9609},{"k":"min","t":19.29,"v":0.9582},{"k":"min","t":19.38,"v":0.9537},{"k":"min","t":19.52,"v":0.96},{"k":"min","t":19.64,"v":0.9582},{"k":"min","t":19.82,"v":0.9609},{"k":"min","t":20,"v":0.9618},{"k":"min","t":20.18,"v":0.9609},{"k":"min","t":20.36,"v":0.9618},{"k":"min","t":20.54,"v":0.9591},{"k":"min","t":20.72,"v":0.9609},{"k":"min","t":20.9,"v":0.96},{"k":"min","t":21.08,"v":0.9573},{"k":"min","t":21.26,"v":0.9573},{"k":"min","t":21.44,"v":0.9591},{"k":"min","t":21.62,"v":0.9582},{"k":"min","t":21.8,"v":0.9573},{"k":"min","t":21.98,"v":0.9564},{"k":"min","t":22.16,"v":0.9573},{"k":"min","t":22.34,"v":0.9573},{"k":"min","t":22.51,"v":0.9591},{"k":"min","t":22.69,"v":0.9591},{"k":"min","t":22.87,"v":0.9591},{"k":"min","t":23.05,"v":0.9609},{"k":"min","t":23.23,"v":0.9618},{"k":"min","t":23.41,"v":0.9636},{"k":"min","t":23.54,"v":0.969},{"k":"min","t":23.63,"v":0.9627},{"k":"min","t":23.8,"v":0.9636},{"k":"min","t":24,"v":0.9618},
      {"k":"max","t":0,"v":1.0},{"k":"max","t":6.28,"v":1.0},{"k":"max","t":6.37,"v":1.005},{"k":"max","t":6.46,"v":1.0086},{"k":"max","t":6.55,"v":1.0158},{"k":"max","t":6.64,"v":1.0086},{"k":"max","t":6.78,"v":1.023},{"k":"max","t":6.91,"v":1.03},{"k":"max","t":7,"v":1.0428},{"k":"max","t":7.09,"v":1.032},{"k":"max","t":7.18,"v":1.049},{"k":"max","t":7.27,"v":1.0446},{"k":"max","t":7.39,"v":1.0374},{"k":"max","t":7.48,"v":1.0344},{"k":"max","t":7.62,"v":1.05},{"k":"max","t":7.75,"v":1.0698},{"k":"max","t":7.84,"v":1.0806},{"k":"max","t":7.93,"v":1.0761},{"k":"max","t":8.02,"v":1.0806},{"k":"max","t":8.11,"v":1.0761},{"k":"max","t":8.25,"v":1.0878},{"k":"max","t":8.43,"v":1.0914},{"k":"max","t":8.56,"v":1.0936},{"k":"max","t":8.65,"v":1.09},{"k":"max","t":8.74,"v":1.0983},{"k":"max","t":8.92,"v":1.0986},{"k":"max","t":9.1,"v":1.104},{"k":"max","t":9.28,"v":1.1085},{"k":"max","t":9.54,"v":1.1094},{"k":"max","t":9.72,"v":1.1103},{"k":"max","t":9.9,"v":1.1098},{"k":"max","t":10.14,"v":1.1105},{"k":"max","t":10.41,"v":1.1109},{"k":"max","t":10.67,"v":1.1107},{"k":"max","t":10.94,"v":1.1116},{"k":"max","t":11.12,"v":1.1098},{"k":"max","t":11.34,"v":1.1094},{"k":"max","t":11.52,"v":1.1073},{"k":"max","t":11.66,"v":1.1055},{"k":"max","t":11.84,"v":1.1085},{"k":"max","t":12.06,"v":1.1123},{"k":"max","t":12.13,"v":1.1026},{"k":"max","t":12.22,"v":1.1103},{"k":"max","t":12.4,"v":1.1105},{"k":"max","t":12.54,"v":1.1094},{"k":"max","t":12.63,"v":1.0968},{"k":"max","t":12.72,"v":1.108},{"k":"max","t":12.85,"v":1.1067},{"k":"max","t":12.94,"v":1.0968},{"k":"max","t":13.02,"v":1.086},{"k":"max","t":13.11,"v":1.0986},{"k":"max","t":13.17,"v":1.0716},{"k":"max","t":13.26,"v":1.0788},{"k":"max","t":13.35,"v":1.0671},{"k":"max","t":13.46,"v":1.095},{"k":"max","t":13.54,"v":1.1076},{"k":"max","t":13.63,"v":1.1022},{"k":"max","t":13.71,"v":1.0698},{"k":"max","t":13.78,"v":1.104},{"k":"max","t":13.87,"v":1.1094},{"k":"max","t":13.96,"v":1.1004},{"k":"max","t":14.05,"v":1.1037},{"k":"max","t":14.17,"v":1.1022},{"k":"max","t":14.32,"v":1.1004},{"k":"max","t":14.41,"v":1.0815},{"k":"max","t":14.51,"v":1.0659},{"k":"max","t":14.62,"v":1.0689},{"k":"max","t":14.76,"v":1.0752},{"k":"max","t":14.89,"v":1.0788},{"k":"max","t":15.03,"v":1.0713},{"k":"max","t":15.14,"v":1.0617},{"k":"max","t":15.23,"v":1.0599},{"k":"max","t":15.34,"v":1.0752},{"k":"max","t":15.43,"v":1.0882},{"k":"max","t":15.52,"v":1.0752},{"k":"max","t":15.59,"v":1.0536},{"k":"max","t":15.7,"v":1.0425},{"k":"max","t":15.79,"v":1.0371},{"k":"max","t":15.89,"v":1.0338},{"k":"max","t":16,"v":1.032},{"k":"max","t":16.11,"v":1.0288},{"k":"max","t":16.22,"v":1.0302},{"k":"max","t":16.33,"v":1.0284},{"k":"max","t":16.43,"v":1.0284},{"k":"max","t":16.54,"v":1.0252},{"k":"max","t":16.63,"v":1.0185},{"k":"max","t":16.72,"v":1.0126},{"k":"max","t":16.83,"v":1.0059},{"k":"max","t":16.94,"v":1.0029},{"k":"max","t":17.04,"v":1.0018},{"k":"max","t":17.15,"v":1.0},{"k":"max","t":17.24,"v":1.0018},{"k":"max","t":17.33,"v":1.0},{"k":"max","t":24,"v":1.0},
      {"k":"lo","t":0,"v":0.95},{"k":"lo","t":24,"v":0.95},
      {"k":"hi","t":0,"v":1.05},{"k":"hi","t":24,"v":1.05}
    ]
  },
  "encoding": {
    "x": {
      "field": "t",
      "type": "quantitative",
      "scale": {"domain": [0, 24], "nice": false, "zero": false},
      "axis": {
        "values": [0, 8, 16, 24],
        "labelExpr": "datum.value == 8 ? '08:00' : datum.value == 16 ? '16:00' : '00:00'",
        "labelFlush": false,
        "labelFont": "Liberation Serif",
        "labelFontSize": 60,
        "labelColor": "#111111",
        "labelPadding": 32,
        "tickSize": -12,
        "tickWidth": 3,
        "tickColor": "#111111",
        "domainColor": "#111111",
        "domainWidth": 3.5,
        "grid": false,
        "title": "时间",
        "titleFont": "Liberation Serif, Noto Sans CJK SC",
        "titleFontSize": 60,
        "titleFontWeight": "normal",
        "titleColor": "#111111",
        "titleY": 136,
        "titleBaseline": "middle"
      }
    },
    "y": {
      "field": "v",
      "type": "quantitative",
      "scale": {"domain": [0.9418, 1.1205], "nice": false, "zero": false},
      "axis": {
        "values": [0.96, 0.98, 1.0, 1.02, 1.04, 1.06, 1.08, 1.1, 1.12],
        "format": ".2f",
        "labelFont": "Liberation Serif",
        "labelFontSize": 60,
        "labelColor": "#111111",
        "labelPadding": 33,
        "tickSize": -12,
        "tickWidth": 3,
        "tickColor": "#111111",
        "domainColor": "#111111",
        "domainWidth": 3.5,
        "grid": false,
        "title": "电压幅值/p.u.",
        "titleFont": "Liberation Serif, Noto Sans CJK SC",
        "titleFontSize": 60,
        "titleFontWeight": "normal",
        "titleColor": "#111111",
        "titleAngle": -90,
        "titleX": -182,
        "titleY": 630,
        "titleAlign": "center",
        "titleBaseline": "middle"
      }
    }
  },
  "layer": [
    {
      "data": {"name": "bg"},
      "mark": {"type": "line", "strokeWidth": 8},
      "encoding": {
        "color": {
          "field": "s",
          "type": "nominal",
          "legend": null,
          "scale": {
            "domain": ["g1","g2","g3","g4","g5","g6","y1","y2","y3","y4","y5","p1","p2","p3","p4","p5"],
            "range": ["#cbc6c4","#cbc6c4","#cbc6c4","#cbc6c4","#cbc6c4","#cbc6c4","#f3d2a1","#f3d2a1","#f3d2a1","#f3d2a1","#f3d2a1","#d5b4d4","#d5b4d4","#d5b4d4","#d5b4d4","#d5b4d4"]
          }
        },
        "strokeDash": {
          "field": "s",
          "type": "nominal",
          "legend": null,
          "scale": {
            "domain": ["g1","g2","g3","g4","g5","g6","y1","y2","y3","y4","y5","p1","p2","p3","p4","p5"],
            "range": [[1,0],[1,0],[1,0],[1,0],[1,0],[1,0],[22,8],[22,8],[22,8],[22,8],[22,8],[20,7,5,7],[20,7,5,7],[20,7,5,7],[20,7,5,7],[20,7,5,7]]
          }
        }
      }
    },
    {
      "data": {"name": "main"},
      "mark": {"type": "line"},
      "encoding": {
        "strokeWidth": {
          "field": "k",
          "type": "nominal",
          "legend": null,
          "scale": {"domain": ["min", "max", "lo", "hi"], "range": [6.5, 7.5, 7, 7]}
        },
        "color": {
          "field": "k",
          "type": "nominal",
          "scale": {
            "domain": ["min", "max", "lo", "hi"],
            "range": ["#4a6d9b", "#f07c3b", "#4e7b31", "#e8392e"]
          },
          "legend": {
            "orient": "none",
            "legendX": 1206,
            "legendY": 27,
            "title": null,
            "padding": 0,
            "symbolType": "M-3,0H3",
            "symbolSize": 1296,
            "symbolStrokeWidth": 7,
            "labelOffset": 55,
            "labelFont": "Liberation Serif, Noto Sans CJK SC",
            "labelFontSize": 60,
            "labelColor": "#111111",
            "labelLimit": 600,
            "rowPadding": 14,
            "labelExpr": "datum.label == 'min' ? '电压最小值' : datum.label == 'max' ? '电压最大值' : datum.label == 'lo' ? '电压下限' : '电压上限'"
          }
        },
        "strokeDash": {
          "field": "k",
          "type": "nominal",
          "scale": {
            "domain": ["min", "max", "lo", "hi"],
            "range": [[1, 0], [1, 0], [7, 12.4], [7, 12.4]]
          },
          "legend": {
            "orient": "none",
            "legendX": 1206,
            "legendY": 27,
            "title": null,
            "padding": 0,
            "symbolType": "M-3,0H3",
            "symbolSize": 1296,
            "symbolStrokeWidth": 7,
            "labelOffset": 55,
            "labelFont": "Liberation Serif, Noto Sans CJK SC",
            "labelFontSize": 60,
            "labelColor": "#111111",
            "labelLimit": 600,
            "rowPadding": 14,
            "labelExpr": "datum.label == 'min' ? '电压最小值' : datum.label == 'max' ? '电压最大值' : datum.label == 'lo' ? '电压下限' : '电压上限'"
          }
        }
      }
    }
  ],
  "resolve": {"scale": {"color": "independent", "strokeDash": "independent", "strokeWidth": "independent"}}
}
